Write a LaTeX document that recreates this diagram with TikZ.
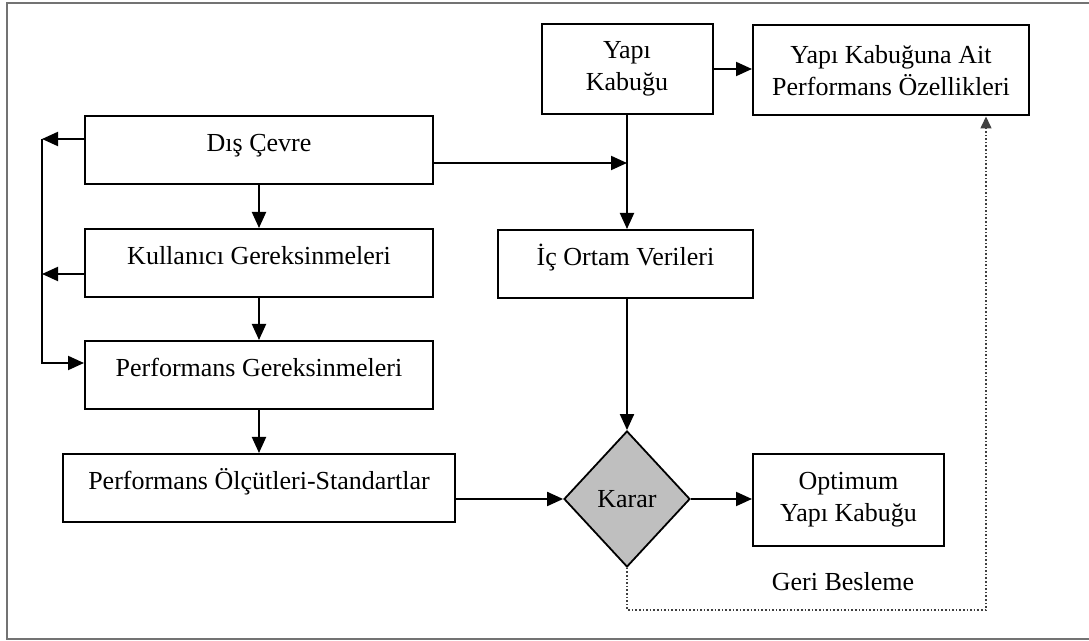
\documentclass[tikz,border=0pt]{standalone}
\usepackage{fontspec}
\setmainfont{Liberation Serif}
\usetikzlibrary{positioning, arrows.meta, shapes.geometric}

\begin{document}
\begin{tikzpicture}[x=0.5pt, y=-0.5pt, >={Triangle[length=8pt, width=7pt]},
		every node/.style={font=\fontsize{13pt}{16pt}\selectfont},
		box/.style={draw, line width=1pt, inner sep=2pt, align=center},
		onebox/.style={box, minimum height=34pt, text height=9pt, text depth=7pt},
		twobox/.style={box, minimum height=45pt},
		kararbox/.style={diamond, draw, line width=0.9pt, fill=black!25, minimum width=63pt, minimum height=68pt, inner sep=0pt},
		conn/.style={->, line width=1pt},
		feedback/.style={-{Triangle[length=6pt, width=5.5pt]}, densely dotted, line width=0.8pt, black!75}]
		\useasboundingbox (0,0) rectangle (1089,641);
		\draw[black!55, line width=0.8pt] (1089,3) -- (7,3) -- (7,639) -- (1089,639);

		\node[onebox, minimum width=174pt] (disc) at (259,150) {Dış Çevre};
		\node[onebox, minimum width=174pt] (kull) at (259,263) {Kullanıcı Gereksinmeleri};
		\node[onebox, minimum width=174pt] (pgrek) at (259,375) {Performans Gereksinmeleri};
		\node[onebox, minimum width=196pt] (polc) at (259,488) {Performans Ölçütleri-Standartlar};
		\node[twobox, minimum width=85.5pt] (yapi) at (627,69) {Yapı\\Kabuğu};
		\node[twobox, minimum width=138pt] (ait) at (891,70.5) {Yapı Kabuğuna Ait\\Performans Özellikleri};
		\node[onebox, minimum width=127.5pt] (icort) at (625.5,264) {İç Ortam Verileri};
		\node[kararbox] (karar) at (627,499) {Karar};
		\node[twobox, minimum width=95.5pt, minimum height=46pt] (opt) at (848.5,500) {Optimum\\Yapı Kabuğu};
		\node (geri) at (843,582) {Geri Besleme};

		\coordinate (l1) at (42,139);
		\coordinate (l2) at (42,274);
		\coordinate (l3) at (42,363);
		\coordinate (j1) at (627,163);
		\coordinate (fb) at (986,610);

		\draw[conn] (disc) -- (kull);
		\draw[conn] (kull) -- (pgrek);
		\draw[conn] (pgrek) -- (polc);
		\draw[conn] (disc.west |- l1) -- (l1);
		\draw[conn] (kull.west |- l2) -- (l2);
		\draw[conn] (l1) -- (l3) -- (pgrek.west |- l3);
		\draw[conn] (disc.east |- j1) -- (j1);
		\draw[conn] (yapi.east) -- (ait.west |- yapi.east);
		\draw[conn] (yapi.south) -- (icort.north -| yapi.south);
		\draw[conn] (icort.south -| karar.north) -- (karar.north);
		\draw[conn] (polc.east |- karar.west) -- (karar.west);
		\draw[conn] (karar.east) -- (opt.west |- karar.east);
		\draw[feedback] (karar.south) |- (fb) -- (ait.south -| fb);
	\end{tikzpicture}
\end{document}
